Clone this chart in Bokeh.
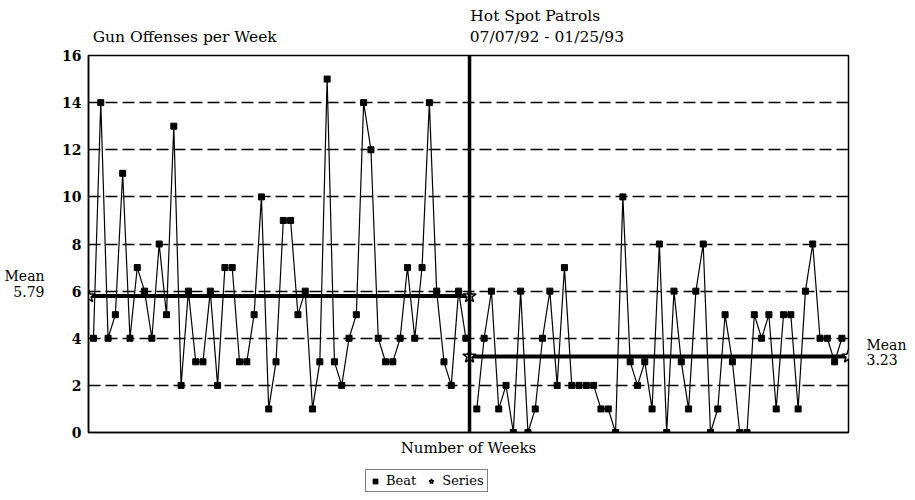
from bokeh.plotting import figure
from bokeh.layouts import column
from bokeh.models import Span, Legend, LegendItem, FixedTicker, Range1d, LinearAxis
from bokeh.embed import file_html
from bokeh.resources import INLINE

# ---- data ----
beat_before = [4, 14, 4, 5, 11, 4, 7, 6, 4, 8, 5, 13, 2, 6, 3, 3, 6, 2, 7, 7, 3, 3, 5, 10, 1, 3,
               9, 9, 5, 6, 1, 3, 15, 3, 2, 4, 5, 14, 12, 4, 3, 3, 4, 7, 4, 7, 14, 6, 3, 2, 6, 4]
beat_after = [1, 4, 6, 1, 2, 0, 6, 0, 1, 4, 6, 2, 7, 2, 2, 2, 2, 1, 1, 0, 10, 3, 2, 3, 1, 8,
              0, 6, 3, 1, 6, 8, 0, 1, 5, 3, 0, 0, 5, 4, 5, 1, 5, 5, 1, 6, 8, 4, 4, 3, 4]
mean_before = 5.79
mean_after = 3.23
y_ticks = [0, 2, 4, 6, 8, 10, 12, 14, 16]
title_text = "Gun Offenses per Week"
phase_text = ["Hot Spot Patrols", "07/07/92 - 01/25/93"]
x_label = "Number of Weeks"
legend_labels = ["Beat", "Series"]

SERIF = "DejaVu Serif"

n1 = len(beat_before)
x_before = list(range(n1))
x_after = [n1 + 0.5 + i for i in range(len(beat_after))]
x_start, x_end = -0.68, 103.4
x_cut = n1 - 0.5

# text anchor positions (data units, centre of each text)
title_pos = 12.5
phase_pos = [60.5, 62.1]
left_mean_pos = 6.3
right_mean_pos = 3.4


def quiet(ax):
    ax.major_tick_line_color = None
    ax.minor_tick_line_color = None
    ax.major_tick_out = 0
    ax.major_tick_in = 0
    ax.minor_tick_out = 0
    ax.minor_tick_in = 0


p = figure(frame_width=760, frame_height=377, output_backend="svg", toolbar_location=None,
           x_range=Range1d(x_start, x_end), y_range=Range1d(0, 16),
           min_border_left=88, min_border_right=60, min_border_top=55,
           min_border_bottom=28)
p.title.visible = False
p.background_fill_color = "white"
p.border_fill_color = "white"
p.outline_line_color = "black"
p.outline_line_width = 1.5

# y axis
yax = p.yaxis[0]
quiet(yax)
yax.ticker = FixedTicker(ticks=y_ticks)
yax.axis_line_color = "black"
yax.axis_line_width = 1.5
yax.major_label_text_font = SERIF
yax.major_label_text_font_style = "bold"
yax.major_label_text_font_size = "14px"
yax.major_label_text_color = "black"
yax.major_label_standoff = 7

# x axis
xax = p.xaxis[0]
quiet(xax)
xax.ticker = FixedTicker(ticks=[])
xax.major_label_standoff = 0
xax.axis_line_color = "black"
xax.axis_line_width = 1.5
xax.axis_label = x_label
xax.axis_label_text_font = SERIF
xax.axis_label_text_font_style = "normal"
xax.axis_label_text_font_size = "15px"
xax.axis_label_text_color = "black"
xax.axis_label_standoff = 6

# header texts as axes above
top_axis = LinearAxis(ticker=FixedTicker(ticks=[title_pos, phase_pos[1]]),
                      major_label_overrides={title_pos: title_text,
                                             phase_pos[1]: phase_text[1]},
                      axis_line_color=None,
                      major_label_text_font=SERIF, major_label_text_font_size="15.5px",
                      major_label_text_color="black", major_label_standoff=10)
quiet(top_axis)
p.add_layout(top_axis, "above")

top_axis2 = LinearAxis(ticker=FixedTicker(ticks=[phase_pos[0]]),
                       major_label_overrides={phase_pos[0]: phase_text[0]},
                       axis_line_color=None,
                       major_label_text_font=SERIF, major_label_text_font_size="15.5px",
                       major_label_text_color="black", major_label_standoff=0)
quiet(top_axis2)
p.add_layout(top_axis2, "above")

# mean labels as outer axes
left_axis = LinearAxis(ticker=FixedTicker(ticks=[left_mean_pos]),
                       major_label_overrides={left_mean_pos: "Mean\n%.2f" % mean_before},
                       axis_line_color=None,
                       major_label_text_font=SERIF, major_label_text_font_size="14px",
                       major_label_text_line_height=0.95,
                       major_label_text_color="black", major_label_standoff=15)
quiet(left_axis)
p.add_layout(left_axis, "left")

right_axis = LinearAxis(ticker=FixedTicker(ticks=[right_mean_pos]),
                        major_label_overrides={right_mean_pos: "Mean\n%.2f" % mean_after},
                        axis_line_color=None,
                        major_label_text_font=SERIF, major_label_text_font_size="14px",
                        major_label_text_line_height=0.95,
                        major_label_text_color="black", major_label_standoff=18)
quiet(right_axis)
p.add_layout(right_axis, "right")

p.xgrid.visible = False
p.ygrid.ticker = FixedTicker(ticks=y_ticks[1:-1])
p.ygrid.grid_line_color = "black"
p.ygrid.grid_line_width = 1.3
p.ygrid.grid_line_dash = "12 5"

# intervention line
p.add_layout(Span(location=x_cut, dimension="height", line_color="black", line_width=3.5))

# beat series
p.line(x_before, beat_before, line_color="black", line_width=1.2)
p.line(x_after, beat_after, line_color="black", line_width=1.2)
p.scatter(x_before, beat_before, marker="square", size=6, fill_color="black", line_color="black")
p.scatter(x_after, beat_after, marker="square", size=6, fill_color="black", line_color="black")

# mean lines
p.line([x_start, x_cut], [mean_before, mean_before], line_color="black", line_width=4)
p.line([x_cut, x_end], [mean_after, mean_after], line_color="black", line_width=4)
p.scatter([x_start, x_cut, x_cut, x_end], [mean_before, mean_before, mean_after, mean_after],
          marker="star", size=14, fill_color="white", line_color="black", line_width=1.5)

# legend strip below the chart (key glyphs sit outside its visible range)
lf = figure(frame_width=760, frame_height=36, output_backend="svg", toolbar_location=None,
            x_range=Range1d(0, 1), y_range=Range1d(0, 1),
            min_border_left=88, min_border_right=60, min_border_top=0, min_border_bottom=0)
lf.title.visible = False
lf.axis.visible = False
lf.grid.visible = False
lf.outline_line_color = None
lf.background_fill_color = "white"
lf.border_fill_color = "white"
hidden = [5]
leg_sq = lf.scatter(hidden, hidden, marker="square", size=6, fill_color="black", line_color="black")
leg_star = lf.scatter(hidden, hidden, marker="star", size=14, fill_color="white", line_color="black",
                      line_width=1.5)
legend = Legend(items=[LegendItem(label=legend_labels[0], renderers=[leg_sq]),
                       LegendItem(label=legend_labels[1], renderers=[leg_star])],
                location=(277, 4), orientation="horizontal",
                label_text_font=SERIF, label_text_font_size="13px", label_text_color="black",
                glyph_width=12, glyph_height=14, label_standoff=5, spacing=9,
                padding=3, margin=0, border_line_color="black", border_line_width=1.2,
                background_fill_alpha=1.0, label_height=14)
lf.add_layout(legend, "center")

layout = column(p, lf, spacing=0)
open("out.html", "w").write(file_html(layout, INLINE))
